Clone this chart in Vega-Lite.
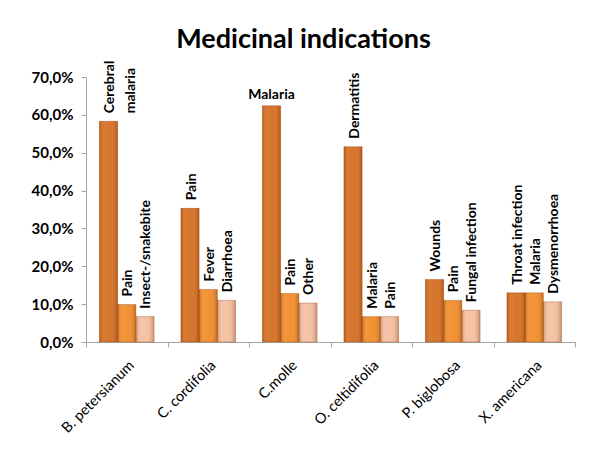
{
  "$schema": "https://vega.github.io/schema/vega-lite/v6.json",
  "width": 489,
  "height": 265,
  "autosize": {"type": "none"},
  "padding": {"left": 86, "top": 77, "right": 25, "bottom": 126},
  "background": "white",
  "title": {
    "text": "Medicinal indications",
    "font": "Lato",
    "fontSize": 27,
    "fontWeight": "bold",
    "color": "black",
    "anchor": "middle",
    "dx": -27,
    "offset": 7
  },
  "config": {"view": {"stroke": null}},
  "data": {
    "values": [
      {"species": "B. petersianum", "rank": 1, "label": "Cerebral\nmalaria", "value": 0.583},
      {"species": "B. petersianum", "rank": 2, "label": "Pain", "value": 0.099},
      {"species": "B. petersianum", "rank": 3, "label": "Insect-/snakebite", "value": 0.067},
      {"species": "C. cordifolia", "rank": 1, "label": "Pain", "value": 0.353},
      {"species": "C. cordifolia", "rank": 2, "label": "Fever", "value": 0.139},
      {"species": "C. cordifolia", "rank": 3, "label": "Diarrhoea", "value": 0.110},
      {"species": "C.molle", "rank": 1, "label": "Malaria", "value": 0.624},
      {"species": "C.molle", "rank": 2, "label": "Pain", "value": 0.128},
      {"species": "C.molle", "rank": 3, "label": "Other", "value": 0.103},
      {"species": "O. celtidifolia", "rank": 1, "label": "Dermatitis", "value": 0.516},
      {"species": "O. celtidifolia", "rank": 2, "label": "Malaria", "value": 0.067},
      {"species": "O. celtidifolia", "rank": 3, "label": "Pain", "value": 0.067},
      {"species": "P. biglobosa", "rank": 1, "label": "Wounds", "value": 0.165},
      {"species": "P. biglobosa", "rank": 2, "label": "Pain", "value": 0.110},
      {"species": "P. biglobosa", "rank": 3, "label": "Fungal infection", "value": 0.084},
      {"species": "X. americana", "rank": 1, "label": "Throat infection", "value": 0.130},
      {"species": "X. americana", "rank": 2, "label": "Malaria", "value": 0.130},
      {"species": "X. americana", "rank": 3, "label": "Dysmenorrhoea", "value": 0.106}
    ]
  },
  "encoding": {
    "x": {
      "field": "species",
      "type": "nominal",
      "sort": null,
      "title": null,
      "scale": {"paddingInner": 0, "paddingOuter": 0},
      "axis": {
        "labelAngle": -45,
        "labelAlign": "right",
        "labelBaseline": "top",
        "labelFont": "Lato",
        "labelFontSize": 14.5,
        "labelColor": "black",
        "labelPadding": 11,
        "tickBand": "extent",
        "tickSize": 5,
        "tickColor": "#A6A6A6",
        "domainColor": "#A6A6A6"
      }
    },
    "xOffset": {
      "field": "rank",
      "type": "nominal",
      "scale": {"domain": [1, 2, 3], "paddingInner": 0, "paddingOuter": 0.735}
    },
    "y": {
      "field": "value",
      "type": "quantitative",
      "title": null,
      "scale": {"domain": [0, 0.7], "nice": false},
      "axis": {
        "values": [0, 0.1, 0.2, 0.3, 0.4, 0.5, 0.6, 0.7],
        "labelExpr": "replace(format(datum.value, '.1%'), '.', ',')",
        "grid": false,
        "labelFont": "Lato",
        "labelFontSize": 15,
        "labelFontWeight": "bold",
        "labelColor": "black",
        "labelPadding": 8,
        "tickSize": 5,
        "tickColor": "#A6A6A6",
        "domainColor": "#A6A6A6"
      }
    }
  },
  "layer": [
    {
      "mark": {"type": "bar"},
      "encoding": {
        "color": {
          "field": "rank",
          "type": "nominal",
          "legend": null,
          "scale": {"domain": [1, 2, 3], "range": ["#D56B1D", "#F28A26", "#F4BE9F"]}
        }
      }
    },
    {
      "mark": {
        "type": "bar",
        "stroke": "rgba(140,60,10,0.45)",
        "strokeWidth": 0.7,
        "color": {
          "gradient": "linear",
          "x1": 0, "y1": 0, "x2": 1, "y2": 0,
          "stops": [
            {"offset": 0, "color": "rgba(110,40,0,0.28)"},
            {"offset": 0.25, "color": "rgba(255,255,255,0.10)"},
            {"offset": 0.6, "color": "rgba(255,255,255,0.06)"},
            {"offset": 1, "color": "rgba(110,40,0,0.32)"}
          ]
        }
      }
    },
    {
      "transform": [{"filter": "!(datum.species == 'C.molle' && datum.rank == 1)"}],
      "mark": {
        "type": "text",
        "angle": 270,
        "align": "left",
        "baseline": "middle",
        "dx": 8,
        "dy": 1.5,
        "font": "Lato",
        "fontSize": 14,
        "fontWeight": "bold",
        "color": "black",
        "lineBreak": "\n",
        "lineHeight": 21
      },
      "encoding": {"text": {"field": "label", "type": "nominal"}}
    },
    {
      "transform": [{"filter": "datum.species == 'C.molle' && datum.rank == 1"}],
      "mark": {
        "type": "text",
        "align": "center",
        "baseline": "bottom",
        "dy": -4,
        "font": "Lato",
        "fontSize": 14,
        "fontWeight": "bold",
        "color": "black"
      },
      "encoding": {"text": {"field": "label", "type": "nominal"}}
    }
  ]
}
